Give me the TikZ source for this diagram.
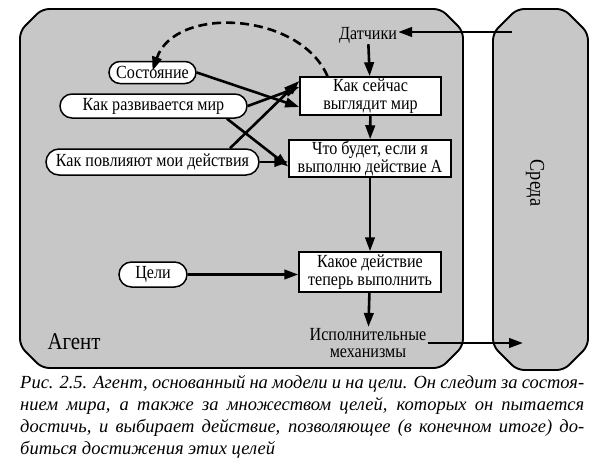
\documentclass[tikz,border=0pt]{standalone}
\usepackage{fontspec}
\setmainfont{Liberation Serif}[FakeStretch=0.87]
\newfontfamily\capfont{Liberation Serif}
\usetikzlibrary{arrows.meta,shapes.misc}
\definecolor{panel}{gray}{0.78}
\begin{document}
\begin{tikzpicture}[x=1pt,y=-1pt,
  font=\fontsize{18.5}{17.5}\selectfont,
  panelbd/.style={draw, line width=1.9pt, fill=panel, rounded corners=7pt},
  oval/.style={draw, line width=1.5pt, fill=white, rounded rectangle, minimum height=24pt, inner xsep=3pt, inner ysep=0pt},
  boxn/.style={draw, line width=1.5pt, fill=white, align=center, inner sep=1pt},
  plain/.style={align=center, inner sep=1pt},
  arr/.style={line width=2.6pt, -{Triangle[length=14pt,width=9.5pt]}},
  dasharr/.style={line width=2.6pt, dash pattern=on 9pt off 5pt, -{Triangle[length=14pt,width=9.5pt]}}
]
\useasboundingbox (0,0) rectangle (614,474);
% panels
\path[panelbd] (20,31) -- (42,9) -- (441,9) -- (463,31) -- (463,346) -- (441,368) -- (42,368) -- (20,346) -- cycle;
\path[panelbd] (493,33) -- (517,9) -- (564,9) -- (588,33) -- (588,346) -- (564,370) -- (517,370) -- (493,346) -- cycle;
% labels
\node[plain, font=\fontsize{24}{24}\selectfont] (agent) at (74,342) {Агент};
\node[plain, rotate=-90, font=\fontsize{21}{21}\selectfont] (env) at (535,183) {Среда};
\node[plain] (sens) at (368,35) {Датчики};
\node[plain] (act) at (368,343) {Исполнительные\\механизмы};
% boxes
\node[boxn, minimum width=141pt, minimum height=38pt] (b1) at (370.5,96) {Как сейчас\\выглядит мир};
\node[boxn, minimum width=162pt, minimum height=37pt] (b2) at (370,158.5) {Что будет, если я\\выполню действие А};
\node[boxn, minimum width=142pt, minimum height=40pt] (b3) at (370,272) {Какое действие\\теперь выполнить};
% ovals
\node[oval, minimum width=93pt, minimum height=22pt] (st) at (152.5,72.5) {Состояние};
\node[oval, minimum width=193pt] (evo) at (153.5,106) {Как развивается мир};
\node[oval, minimum width=219pt, minimum height=26pt] (eff) at (152.5,162) {Как повлияют мои действия};
\node[oval, minimum width=74pt, minimum height=25pt] (goal) at (153,274.5) {Цели};
% coordinates
\coordinate (envin) at (512,32);
\coordinate (envout) at (523,343);
% connectors
\draw[arr] (envin) -- (sens.east |- envin);
\draw[arr] (sens) -- (b1);
\draw[arr] (b1) -- (b2);
\draw[arr] (b2) -- (b3);
\draw[arr] (b3) -- (act);
\draw[arr] (act.east |- envout) -- (envout);
\draw[arr] (goal) -- (b3.west |- goal);
\draw[arr] (st.east) -- ([yshift=-11pt]b1.west);
\draw[arr] (evo.east) -- ([yshift=9pt]b1.west);
\draw[arr] ([xshift=-8pt]evo.south east) -- ([yshift=-8pt]b2.west);
\draw[arr] ([xshift=-16pt]eff.north east) -- ([yshift=15pt]b1.west);
\draw[arr] (eff.east) -- (b2.west |- eff.east);
\draw[dasharr] ([xshift=-43pt]b1.north) .. controls (300,12) and (175,5) .. ([yshift=-10pt]st.north);
% caption
\node[anchor=north west, inner sep=0pt, align=left, font=\capfont\fontsize{18.5}{22}\selectfont\itshape] (cap) at (20,375) {%
\makebox[564pt][s]{Рис. 2.5. Агент, основанный на модели и на цели. Он следит за состоя-}\\
\makebox[564pt][s]{нием мира, а также за множеством целей, которых он пытается}\\
\makebox[564pt][s]{достичь, и выбирает действие, позволяющее (в конечном итоге) до-}\\
биться достижения этих целей};
\end{tikzpicture}
\end{document}
